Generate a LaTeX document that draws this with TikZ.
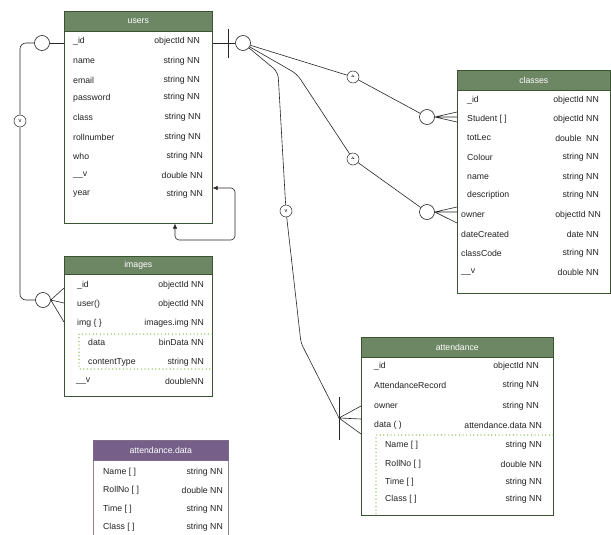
\documentclass[tikz,border=0pt]{standalone}
\usepackage{fontspec}
\setmainfont{Liberation Sans}
\usetikzlibrary{arrows.meta,calc}
\definecolor{hgreen}{HTML}{6D8764}
\definecolor{bgreen}{HTML}{3A5431}
\definecolor{dgreen}{HTML}{60A917}
\definecolor{hpurple}{HTML}{76608A}
\definecolor{bpurple}{HTML}{432D57}
\definecolor{ink}{HTML}{222222}
\newcounter{erowc}
\newcommand{\erow}[5]{\stepcounter{erowc}\node[fld] (f\arabic{erowc}) at (#1,#2) {#3};\node[typ] (t\arabic{erowc}) at (#4,#2) {#5};}
\begin{document}
\begin{tikzpicture}[x=1pt,y=-1pt,font=\fontsize{8.7}{10}\selectfont,
  tbl/.style={draw=bgreen, fill=white, anchor=north west, inner sep=0, line width=0.6pt},
  hdr/.style={fill=hgreen, draw=bgreen, text=white, anchor=north west, inner sep=0, line width=0.6pt},
  fld/.style={anchor=west, inner sep=0, text=ink},
  typ/.style={anchor=east, inner sep=0, text=ink},
  cir/.style={circle, draw=black!85, fill=white, minimum size=15pt, inner sep=0, line width=0.6pt},
  scir/.style={circle, draw=black!85, fill=white, minimum size=12pt, inner sep=0, line width=0.5pt, font=\fontsize{5.5}{6}\selectfont},
  rel/.style={draw=black!85, line width=0.6pt},
  dots/.style={draw=dgreen, line width=1.2pt, dash pattern=on 0pt off 3.6pt, line cap=round}
]
\clip (0,0) rectangle (611,535);
\fill[white] (0,0) rectangle (611,535);

% ---------- users ----------
\node[tbl, minimum width=148pt, minimum height=212pt] (users) at (64,11) {};
\node[hdr, minimum width=148pt, minimum height=20pt] (usersH) at (64,11) {users};
\erow{73}{41}{\_id}{200}{\raisebox{-2pt}{objectId NN}}
\erow{73}{61}{name}{200}{string NN}
\erow{73}{80}{email}{200}{string NN}
\erow{73}{98}{password}{200}{\raisebox{2.5pt}{string NN}}
\erow{73}{117}{class}{201}{\raisebox{1.5pt}{string NN}}
\erow{73}{137}{rollnumber}{201}{string NN}
\erow{73}{156}{who}{203}{string NN}
\erow{73}{175}{\_\_v}{203}{double NN}
\erow{73}{194}{year}{203}{string NN}

% ---------- images ----------
\node[tbl, minimum width=148pt, minimum height=140pt] (images) at (64,256) {};
\node[hdr, minimum width=148pt, minimum height=18pt] (imagesH) at (64,256) {images};
\erow{77}{285}{\_id}{204}{objectId NN}
\erow{77}{304}{user()}{204}{objectId NN}
\erow{77}{323}{img \{ \}}{204}{images.img NN}
\erow{88}{342}{data}{204}{binData NN}
\erow{88}{362}{contentType}{204}{string NN}
\erow{76}{381}{\_\_v}{204}{doubleNN}
\draw[dots] (212,334) -- (79,334) -- (79,369) -- (212,369);

% ---------- classes ----------
\node[tbl, minimum width=153pt, minimum height=223pt] (classes) at (457,70) {};
\node[hdr, minimum width=153pt, minimum height=20pt] (classesH) at (457,70) {classes};
\erow{467}{100}{\_id}{599}{objectId NN}
\erow{467}{119}{Student [ ]}{599}{objectId NN}
\erow{467}{138}{totLec}{599}{double\ \ NN}
\erow{467}{157}{Colour}{599}{\raisebox{-3pt}{string NN}}
\erow{467}{177}{name}{599}{\raisebox{-2pt}{string NN}}
\erow{467}{195}{description}{599}{\raisebox{-4pt}{string NN}}
\erow{461}{215}{owner}{601}{objectId NN}
\erow{461}{234}{dateCreated}{599}{date NN}
\erow{461}{253}{classCode}{599}{string NN}
\erow{461}{272}{\_\_v}{599}{double NN}

% ---------- attendance ----------
\node[tbl, minimum width=192pt, minimum height=178pt] (att) at (361,337) {};
\node[hdr, minimum width=192pt, minimum height=20pt] (attH) at (361,337) {attendance};
\erow{374}{366}{\_id}{539}{objectId NN}
\erow{374}{385}{AttendanceRecord}{539}{string NN}
\erow{374}{406}{owner}{539}{string NN}
\erow{374}{425}{data ( )}{542}{attendance.data NN}
\erow{385}{445}{Name [ ]}{542}{string NN}
\erow{385}{464}{RollNo [ ]}{542}{double NN}
\erow{385}{482}{Time [ ]}{542}{string NN}
\erow{385}{499}{Class [ ]}{542}{string NN}
\draw[dots] (553,435) -- (376,435) -- (376,515);

% ---------- attendance.data ----------
\node[tbl, draw=bpurple!60, minimum width=135pt, minimum height=110pt] (ad) at (93,440) {};
\node[hdr, fill=hpurple, draw=bpurple!70, minimum width=135pt, minimum height=20pt] (adH) at (93,440) {attendance.data};
\erow{103}{472}{Name [ ]}{223}{string NN}
\erow{103}{490}{RollNo [ ]}{223}{double NN}
\erow{103}{509}{Time [ ]}{223}{string NN}
\erow{103}{527}{Class [ ]}{223}{string NN}

% ---------- users <-> images (left) ----------
\node[cir] (Ucl) at (42,43) {};
\node[scir] (vL) at (20,121) {v};
\node[cir] (Icl) at (43,300) {};
\draw[rel] (Ucl.east) -- (Ucl.east -| users.west);
\draw[rel, rounded corners=6pt] (Ucl.west) -| (vL.north);
\draw[rel, rounded corners=6pt] (vL.south) |- (Icl.west);
\coordinate (ic1) at ($(images.north west)+(0,32)$);
\coordinate (ic2) at ($(images.north west)+(0,47)$);
\coordinate (ic3) at ($(images.north west)+(0,66)$);
\draw[rel] (ic1) -- (Icl.east) -- (ic3) (Icl.east) -- (ic2);

% ---------- users self loop ----------
\coordinate (la) at ($(users.north east)+(0,177)$);
\coordinate (lb) at ($(users.south west)+(111,0)$);
\coordinate (lc) at (235,240);
\draw[rel, {Latex[length=5pt,width=4.5pt]}-{Latex[length=5pt,width=4.5pt]}, rounded corners=4pt] (lb) |- (lc) |- (la);

% ---------- users right ----------
\node[cir] (Ucr) at (243,43) {};
\draw[rel] (Ucr.west -| users.east) -- (Ucr.west);
\draw[rel] ($(Ucr)+(-15,-14)$) -- ($(Ucr)+(-15,15)$);

% to classes (1)
\node[scir] (s1) at (353,77) {\rotatebox{70}{v}};
\node[cir] (Cc1) at (427,117) {};
\draw[rel] (Ucr) -- (s1) -- (Cc1);
\coordinate (cc1) at ($(classes.north west)+(0,42)$);
\coordinate (cc2) at ($(classes.north west)+(0,47)$);
\coordinate (cc3) at ($(classes.north west)+(0,52)$);
\draw[rel] (cc1) -- (Cc1.east) -- (cc3) (Cc1.east) -- (cc2);

% to classes (2)
\coordinate (b2) at (297,74);
\node[scir] (s2) at (353,159) {\rotatebox{70}{v}};
\node[cir] (Cc2) at (427,212) {};
\draw[rel, rounded corners=6pt] (Ucr) -- (b2) -- (s2);
\draw[rel] (s2) -- (Cc2);
\coordinate (cd1) at ($(classes.north west)+(0,137)$);
\coordinate (cd2) at ($(classes.north west)+(0,142)$);
\coordinate (cd3) at ($(classes.north west)+(0,153)$);
\draw[rel] (cd1) -- (Cc2.east) -- (cd3) (Cc2.east) -- (cd2);

% to attendance
\coordinate (b3a) at (278,72);
\node[scir] (s3) at (286,211) {v};
\coordinate (b3b) at (301,343);
\coordinate (af) at (339,418);
\draw[rel, rounded corners=6pt] (Ucr) -- (b3a) -- (s3);
\draw[rel, rounded corners=4pt] (s3) -- (b3b) -- (af);
\draw[rel] ($(af)+(0,-21)$) -- ($(af)+(0,22)$);
\coordinate (ac1) at ($(att.north west)+(0,69)$);
\coordinate (ac2) at ($(att.north west)+(0,82)$);
\coordinate (ac3) at ($(att.north west)+(0,97)$);
\draw[rel] (ac1) -- (af) -- (ac3) (af) -- (ac2);
\end{tikzpicture}
\end{document}
